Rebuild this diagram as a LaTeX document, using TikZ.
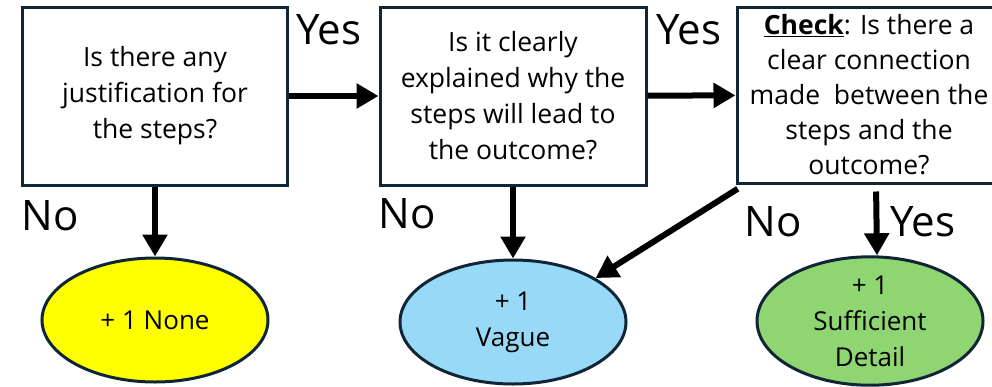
\documentclass[tikz,border=0pt]{standalone}
\usepackage{fontspec}
\setmainfont{Open Sans}
\usetikzlibrary{shapes.geometric, arrows.meta, positioning}
\definecolor{edgeblue}{RGB}{16,38,54}
\definecolor{noneyellow}{RGB}{255,255,0}
\definecolor{vagueblue}{RGB}{151,217,246}
\definecolor{detailgreen}{RGB}{143,214,115}

\begin{document}
\begin{tikzpicture}[x=1pt, y=-1pt, > = {Triangle[length=22pt, width=24pt]}]
    \tikzset{
      my question/.style={
        rectangle, draw=edgeblue, line width=3pt, align=center,
        minimum width=#1, minimum height=178pt, inner sep=0pt,
        font=\fontsize{26.5}{36}\selectfont
      },
      my result/.style={
        ellipse, draw=edgeblue, line width=3pt, fill=#1, align=center,
        minimum width=226pt, minimum height=124pt, inner sep=0pt,
        font=\fontsize{26}{36}\selectfont
      },
      my flow/.style={->, line width=6pt, black},
      my answer/.style={font=\fontsize{42}{44}\selectfont, inner sep=0pt},
    }
    \useasboundingbox (0,0) rectangle (992,386);

    % Draw questions
    \node (question1) [my question=265pt] at (155,96)
    {Is there any\\justification for\\the steps?};
    \node (question2) [my question=266pt] at (513,96)
    {Is it clearly\\explained why the\\steps will lead to\\the outcome?};
    \node (question3) [my question=264pt, minimum height=176pt,
      font=\fontsize{26.5}{35}\selectfont] at (869,95)
    {\underline{\textbf{Check}}: Is there a\\clear connection\\made~ between the\\steps and the\\outcome?};

    % Draw results
    \node (none) [my result=noneyellow] at (155,320) {+ 1 None};
    \node (vague) [my result=vagueblue] at (513,322) {+ 1\\Vague};
    \node (detail) [my result=detailgreen] at (870,321) {+ 1\\Sufficient\\Detail};

    % Arrows
    \draw[my flow] (question1) -- (question2);
    \draw[my flow] (question2) -- (question3);
    \draw[my flow] (question1) -- (none);
    \draw[my flow] (question2) -- (vague);
    \draw[my flow, shorten <=7pt] ([xshift=7pt]question3.south) -- ([xshift=7pt]detail.north);
    \draw[my flow, shorten <=8pt] ([xshift=9pt]question3.south west) -- (vague.28);

    % Answers
    \foreach[count=\i] \answer/\x/\y in {Yes/329/30, Yes/689/30, No/50/216,
      No/407/214, No/773/222, Yes/923/222} {
      \node (answer\i) [my answer] at (\x,\y) {\answer};
    }

  \end{tikzpicture}
\end{document}
